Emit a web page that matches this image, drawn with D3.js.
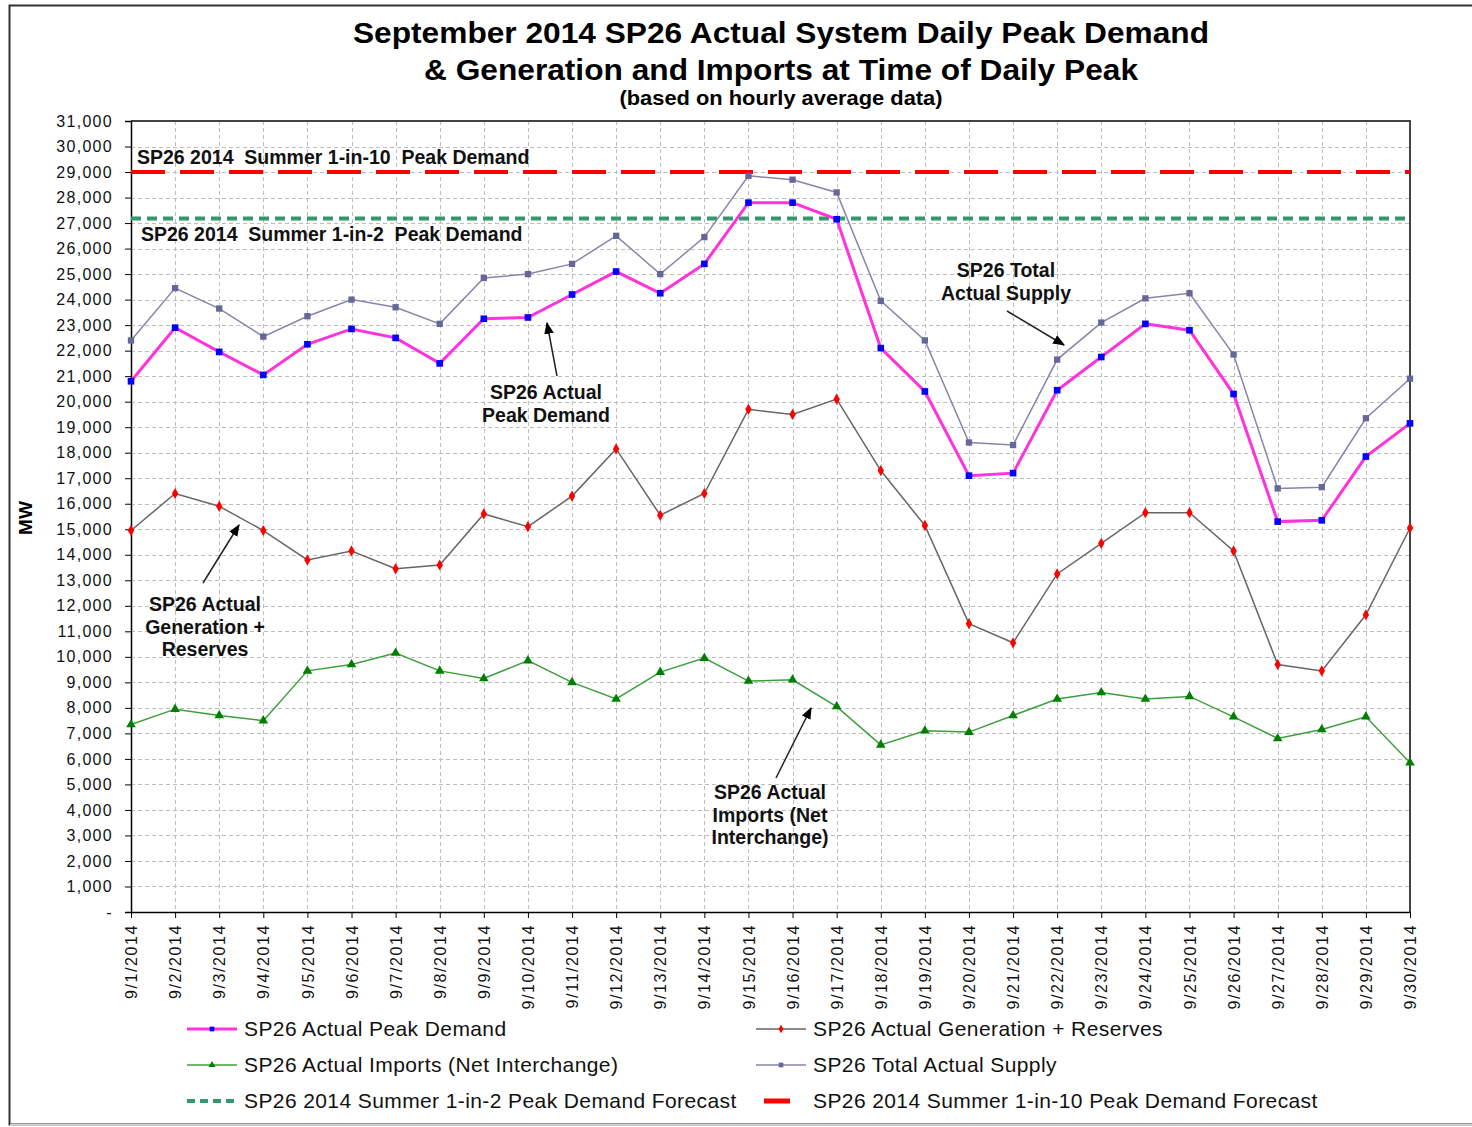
<!DOCTYPE html>
<html>
<head>
<meta charset="UTF-8">
<title>SP26 September 2014 Daily Peak</title>
<script src="https://cdn.jsdelivr.net/npm/d3@7/dist/d3.min.js"></script>
<style>
    body, html { margin: 0; padding: 0; background: #fff; }
    svg { display: block; font-family: "Liberation Sans", Arial, sans-serif; }
    .note { font-weight: bold; font-size: 19.5px; fill: #111; }
</style>
</head>
<body>
<svg id="chart" width="1472" height="1127"></svg>
<script>
    // daily values, MW
    var days = d3.range(1, 31).map(function (d) { return "9/" + d + "/2014"; });

    var peakDemand = [20800, 22900, 21950, 21050, 22250, 22850, 22500, 21500, 23250, 23300,
        24200, 25100, 24250, 25400, 27800, 27800, 27150, 22100, 20400, 17100,
        17200, 20450, 21750, 23050, 22800, 20300, 15300, 15350, 17850, 19150];

    var genReserves = [14950, 16400, 15900, 14950, 13800, 14150, 13450, 13600, 15600, 15100,
        16300, 18150, 15550, 16400, 19700, 19500, 20100, 17300, 15150, 11300,
        10550, 13250, 14450, 15650, 15650, 14150, 9700, 9450, 11650, 15050];

    var imports = [7350, 7950, 7700, 7500, 9450, 9700, 10150, 9450, 9150, 9850,
        9000, 8350, 9400, 9950, 9050, 9100, 8050, 6550, 7100, 7050,
        7700, 8350, 8600, 8350, 8450, 7650, 6800, 7150, 7650, 5850];

    var totalSupply = [22400, 24450, 23650, 22550, 23350, 24000, 23700, 23050, 24850, 25000,
        25400, 26500, 25000, 26450, 28850, 28700, 28200, 23950, 22400, 18400,
        18300, 21650, 23100, 24050, 24250, 21850, 16600, 16650, 19350, 20900];

    var oneInTwo = 27180;
    var oneInTen = 29000;

    var yTicks = d3.range(0, 31001, 1000);

    var svg = d3.select("#chart");
    var pL = 131, pR = 1410, pT = 121, pB = 912;

    var x = d3.scalePoint().domain(days).range([pL, pR]);
    var y = d3.scaleLinear().domain([0, 31000]).range([pB, pT]);

    // outer frame
    svg.append("rect").attr("x", 9.5).attr("y", 5.5).attr("width", 1480).attr("height", 1119)
        .attr("fill", "none").attr("stroke", "#333").attr("stroke-width", 2);
    svg.append("line").attr("x1", 10).attr("x2", 1472).attr("y1", 1125).attr("y2", 1125)
        .attr("stroke", "#ccc").attr("stroke-width", 2);

    // titles
    function title(txt, cy, size, len) {
        svg.append("text").attr("x", 781).attr("y", cy).attr("text-anchor", "middle")
            .attr("font-size", size).attr("font-weight", "bold")
            .attr("textLength", len).attr("lengthAdjust", "spacingAndGlyphs")
            .text(txt);
    }
    title("September 2014 SP26 Actual System Daily  Peak Demand", 43, 29, 856);
    title("& Generation  and Imports at Time of Daily  Peak", 80, 29, 714);
    title("(based on hourly average data)", 105, 20, 323);

    // grid
    var grid = svg.append("g").attr("stroke", "#bdbdbd").attr("stroke-dasharray", "4,3").attr("stroke-width", 1);
    grid.selectAll(".gy").data(yTicks.slice(1, -1)).enter().append("line")
        .attr("x1", pL).attr("x2", pR)
        .attr("y1", function (d) { return Math.round(y(d)) + 0.5; })
        .attr("y2", function (d) { return Math.round(y(d)) + 0.5; });
    grid.selectAll(".gx").data(days.slice(1, -1)).enter().append("line")
        .attr("y1", pT).attr("y2", pB)
        .attr("x1", function (d) { return Math.round(x(d)) + 0.5; })
        .attr("x2", function (d) { return Math.round(x(d)) + 0.5; });

    // plot border top/right
    svg.append("path").attr("d", "M" + pL + "," + pT + "H" + pR + "V" + pB)
        .attr("fill", "none").attr("stroke", "#444").attr("stroke-width", 2);

    // y axis
    var yAxis = svg.append("g").attr("transform", "translate(" + pL + ",0)")
        .call(d3.axisLeft(y).tickValues(yTicks).tickSize(6).tickPadding(12)
            .tickFormat(function (d) { return d === 0 ? "-" : d3.format(",")(d); }));
    yAxis.select(".domain").attr("stroke", "#000").attr("stroke-width", 1.5);
    yAxis.selectAll("text").attr("font-size", 16).attr("fill", "#111")
        .attr("letter-spacing", 1.3);

    // x axis
    var xAxis = svg.append("g").attr("transform", "translate(0," + pB + ")")
        .call(d3.axisBottom(x).tickSize(6).tickSizeOuter(0));
    xAxis.select(".domain").attr("stroke", "#000").attr("stroke-width", 1.5);
    xAxis.selectAll("text")
        .attr("font-size", 16).attr("fill", "#111")
        .attr("letter-spacing", 1.6)
        .attr("transform", "rotate(-90)")
        .attr("text-anchor", "end")
        .attr("x", -12).attr("y", 0).attr("dy", "0.35em");

    svg.append("text").attr("transform", "translate(32,518) rotate(-90)")
        .attr("text-anchor", "middle").attr("font-size", 19).attr("font-weight", "bold").text("MW");

    // forecast lines
    svg.append("line").attr("x1", pL).attr("x2", pR)
        .attr("y1", y(oneInTen)).attr("y2", y(oneInTen))
        .attr("stroke", "#ff0000").attr("stroke-width", 4).attr("stroke-dasharray", "34,15");
    svg.append("line").attr("x1", pL).attr("x2", pR)
        .attr("y1", y(oneInTwo)).attr("y2", y(oneInTwo))
        .attr("stroke", "#33996a").attr("stroke-width", 4).attr("stroke-dasharray", "10,6");

    function drawSeries(values, lineColor, width, marker) {
        var pts = values.map(function (v, i) { return [x(days[i]), y(v)]; });
        svg.append("path").datum(pts)
            .attr("d", d3.line())
            .attr("fill", "none").attr("stroke", lineColor).attr("stroke-width", width);
        svg.append("g").selectAll("path").data(pts).enter().append("path")
            .attr("transform", function (p) { return "translate(" + p[0] + "," + p[1] + ")"; })
            .attr("d", d3.symbol().type(marker.type).size(marker.size))
            .attr("fill", marker.color);
    }

    drawSeries(imports, "#3d9e3d", 1.5, { type: d3.symbolTriangle, size: 40, color: "#008000" });
    drawSeries(genReserves, "#666666", 1.5, { type: d3.symbolDiamond, size: 36, color: "#ff0000" });
    drawSeries(totalSupply, "#8585aa", 1.5, { type: d3.symbolSquare, size: 40, color: "#666699" });
    drawSeries(peakDemand, "#ff33dd", 3, { type: d3.symbolSquare, size: 44, color: "#0000ff" });

    // annotations
    function note(lines, cx, y0, anchor) {
        var t = svg.append("text").attr("class", "note").attr("text-anchor", anchor || "middle");
        lines.forEach(function (l, i) {
            t.append("tspan").attr("x", cx).attr("y", y0 + i * 22.5).text(l);
        });
    }
    function arrow(x1, y1, x2, y2) {
        svg.append("line").attr("x1", x1).attr("y1", y1).attr("x2", x2).attr("y2", y2)
            .attr("stroke", "#222").attr("stroke-width", 1.5).attr("marker-end", "url(#ah)");
    }
    svg.append("defs").append("marker").attr("id", "ah")
        .attr("viewBox", "0 0 10 10").attr("refX", 9).attr("refY", 5)
        .attr("markerWidth", 8).attr("markerHeight", 8).attr("orient", "auto")
        .append("path").attr("d", "M0,1 L10,5 L0,9 Z").attr("fill", "#000");

    note(["SP26 2014  Summer 1-in-10  Peak Demand"], 137, 164, "start");
    note(["SP26 2014  Summer 1-in-2  Peak Demand"], 141, 241, "start");
    note(["SP26 Actual", "Peak Demand"], 546, 399);
    note(["SP26 Total", "Actual Supply"], 1006, 277);
    note(["SP26 Actual", "Generation +", "Reserves"], 205, 611);
    note(["SP26 Actual", "Imports (Net", "Interchange)"], 770, 799);
    svg.selectAll(".note").attr("xml:space", "preserve").style("white-space", "pre");
    arrow(557, 376, 547, 323);
    arrow(1007, 311, 1064, 345);
    arrow(203, 583, 239, 525);
    arrow(776, 778, 811, 708);

    // legend
    var legendItems = [
        { label: "SP26 Actual Peak Demand", col: 0, row: 0, stroke: "#ff33dd", w: 3, mk: "#0000ff", type: d3.symbolSquare },
        { label: "SP26 Actual Generation + Reserves", col: 1, row: 0, stroke: "#666666", w: 1.5, mk: "#ff0000", type: d3.symbolDiamond },
        { label: "SP26 Actual Imports (Net Interchange)", col: 0, row: 1, stroke: "#3d9e3d", w: 1.5, mk: "#008000", type: d3.symbolTriangle },
        { label: "SP26 Total Actual Supply", col: 1, row: 1, stroke: "#8585aa", w: 1.5, mk: "#666699", type: d3.symbolSquare },
        { label: "SP26 2014 Summer 1-in-2 Peak Demand Forecast", col: 0, row: 2, stroke: "#33996a", w: 4, dash: "8,5" },
        { label: "SP26 2014 Summer 1-in-10 Peak Demand Forecast", col: 1, row: 2, stroke: "#ff0000", w: 5, short: true }
    ];
    var colX = [187, 756];
    var leg = svg.append("g").selectAll("g").data(legendItems).enter().append("g")
        .attr("transform", function (d) { return "translate(" + colX[d.col] + "," + (1029 + d.row * 36) + ")"; });
    leg.append("line")
        .attr("x1", function (d) { return d.short ? 8 : 0; })
        .attr("x2", function (d) { return d.short ? 34 : 50; })
        .attr("stroke", function (d) { return d.stroke; })
        .attr("stroke-width", function (d) { return d.w; })
        .attr("stroke-dasharray", function (d) { return d.dash || null; });
    leg.filter(function (d) { return d.type; }).append("path")
        .attr("transform", "translate(25,0)")
        .attr("d", function (d) { return d3.symbol().type(d.type).size(22)(); })
        .attr("fill", function (d) { return d.mk; });
    leg.append("text").attr("x", 57).attr("dy", "0.35em")
        .attr("font-size", 21).attr("letter-spacing", 0.4).attr("fill", "#111")
        .text(function (d) { return d.label; });
</script>
</body>
</html>
